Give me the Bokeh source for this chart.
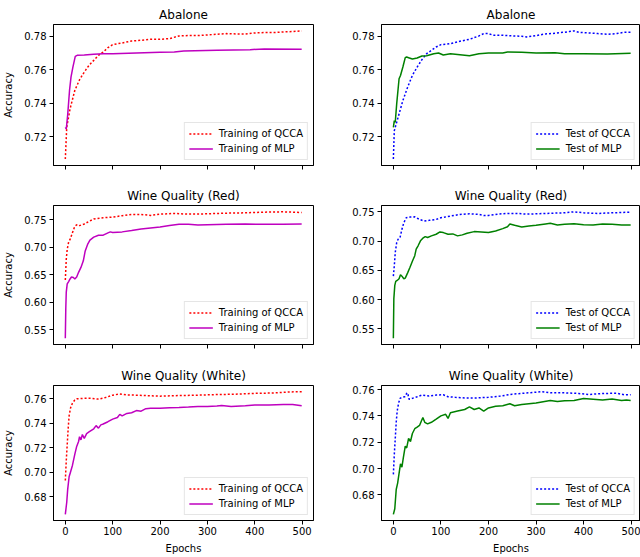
from bokeh.plotting import figure
from bokeh.layouts import gridplot
from bokeh.models import FixedTicker, PrintfTickFormatter, Range1d
from bokeh.embed import file_html
from bokeh.resources import INLINE

# ---------------- data ----------------
titles = ["Abalone", "Wine Quality (Red)", "Wine Quality (White)"]
x_ticks = [0, 100, 200, 300, 400, 500]
y_ticks_abalone = [0.72, 0.74, 0.76, 0.78]
y_ticks_red = [0.55, 0.60, 0.65, 0.70, 0.75]
y_ticks_white = [0.68, 0.70, 0.72, 0.74, 0.76]

# Abalone - training
ab_tr_qcca_ep = [0, 3, 10, 20, 30, 40, 50, 60, 70, 80, 90, 100, 120, 140, 160, 180, 200, 220, 240, 260, 280,
                 300, 320, 340, 360, 380, 400, 420, 440, 460, 480, 499]
ab_tr_qcca_acc = [0.7066, 0.7256, 0.7366, 0.7476, 0.7540, 0.7586, 0.7626, 0.7656, 0.7686, 0.7706, 0.7732,
                  0.7750, 0.7760, 0.7772, 0.7776, 0.7782, 0.7782, 0.7786, 0.7802, 0.7804, 0.7804, 0.7808,
                  0.7812, 0.7816, 0.7814, 0.7814, 0.7820, 0.7822, 0.7822, 0.7826, 0.7828, 0.7832]
ab_tr_mlp_ep = [0, 2, 5, 9, 12, 16, 21, 25, 40, 60, 80, 100, 150, 200, 230, 250, 320, 390, 420, 499]
ab_tr_mlp_acc = [0.7256, 0.7246, 0.7330, 0.7480, 0.7556, 0.7616, 0.7680, 0.7686, 0.7688, 0.7692, 0.7696,
                 0.7696, 0.7700, 0.7704, 0.7706, 0.7712, 0.7716, 0.7720, 0.7724, 0.7722]

# Abalone - test
ab_te_qcca_ep = [0, 2, 5, 10, 15, 20, 30, 40, 50, 60, 70, 80, 90, 100, 110, 120, 140, 160, 180, 190, 200, 210,
                 230, 250, 270, 280, 300, 320, 340, 350, 360, 370, 380, 390, 410, 430, 450, 470, 485, 499]
ab_te_qcca_acc = [0.7066, 0.7236, 0.7266, 0.7316, 0.7366, 0.7416, 0.7496, 0.7566, 0.7616, 0.7660, 0.7696,
                  0.7716, 0.7736, 0.7750, 0.7752, 0.7756, 0.7770, 0.7782, 0.7802, 0.7816, 0.7816, 0.7806,
                  0.7806, 0.7802, 0.7800, 0.7796, 0.7804, 0.7814, 0.7818, 0.7822, 0.7824, 0.7828, 0.7832,
                  0.7824, 0.7820, 0.7816, 0.7812, 0.7816, 0.7824, 0.7824]
ab_te_mlp_ep = [0, 2, 4, 7, 12, 15, 20, 25, 28, 32, 40, 50, 60, 70, 85, 95, 105, 120, 140, 160, 180, 200, 230,
                240, 270, 300, 340, 360, 400, 450, 499]
ab_te_mlp_acc = [0.7256, 0.7296, 0.7286, 0.7396, 0.7546, 0.7566, 0.7616, 0.7672, 0.7676, 0.7672, 0.7664,
                 0.7670, 0.7682, 0.7684, 0.7696, 0.7700, 0.7688, 0.7696, 0.7690, 0.7684, 0.7696, 0.7700,
                 0.7700, 0.7706, 0.7704, 0.7700, 0.7702, 0.7696, 0.7696, 0.7694, 0.7698]

# Wine red - training
rd_tr_qcca_ep = [0, 2, 4, 7, 10, 15, 20, 25, 30, 40, 50, 60, 80, 100, 120, 140, 160, 180, 200, 230, 260, 300,
                 340, 380, 420, 460, 499]
rd_tr_qcca_acc = [0.6407, 0.6784, 0.6963, 0.7094, 0.7142, 0.7261, 0.7381, 0.7410, 0.7393, 0.7422, 0.7470,
                  0.7512, 0.7536, 0.7548, 0.7572, 0.7596, 0.7596, 0.7578, 0.7601, 0.7613, 0.7601, 0.7607,
                  0.7619, 0.7625, 0.7637, 0.7643, 0.7631]
rd_tr_mlp_ep = [0, 1, 2, 4, 7, 10, 13, 17, 20, 24, 28, 33, 38, 42, 47, 52, 60, 70, 80, 90, 95, 100, 120, 140,
                160, 180, 200, 220, 240, 260, 280, 300, 340, 380, 420, 460, 499]
rd_tr_mlp_acc = [0.5350, 0.5888, 0.6187, 0.6336, 0.6378, 0.6425, 0.6461, 0.6450, 0.6425, 0.6461, 0.6545,
                 0.6634, 0.6754, 0.6933, 0.7052, 0.7130, 0.7184, 0.7219, 0.7219, 0.7261, 0.7279, 0.7267,
                 0.7279, 0.7303, 0.7333, 0.7351, 0.7369, 0.7393, 0.7416, 0.7416, 0.7404, 0.7410, 0.7416,
                 0.7422, 0.7416, 0.7416, 0.7422]

# Wine red - test
rd_te_qcca_ep = [0, 2, 4, 7, 10, 14, 18, 22, 27, 35, 45, 55, 65, 75, 90, 100, 120, 140, 160, 180, 190, 200,
                 220, 240, 260, 280, 300, 320, 360, 380, 400, 430, 460, 499]
rd_te_qcca_acc = [0.6401, 0.6582, 0.6807, 0.6976, 0.7032, 0.7061, 0.7201, 0.7314, 0.7399, 0.7410, 0.7415,
                  0.7370, 0.7342, 0.7354, 0.7370, 0.7399, 0.7427, 0.7455, 0.7466, 0.7455, 0.7438, 0.7438,
                  0.7461, 0.7472, 0.7472, 0.7461, 0.7466, 0.7472, 0.7483, 0.7500, 0.7483, 0.7472, 0.7483,
                  0.7494]
rd_te_mlp_ep = [0, 1, 3, 5, 8, 12, 15, 18, 22, 25, 30, 35, 40, 45, 48, 52, 57, 62, 67, 72, 80, 90, 98, 105,
                115, 125, 135, 145, 155, 170, 185, 200, 215, 230, 240, 245, 255, 270, 285, 300, 320, 330, 345,
                360, 380, 400, 420, 440, 460, 480, 499]
rd_te_mlp_acc = [0.5342, 0.6018, 0.6244, 0.6311, 0.6328, 0.6356, 0.6424, 0.6401, 0.6356, 0.6368, 0.6458,
                 0.6553, 0.6655, 0.6751, 0.6863, 0.6920, 0.7004, 0.7049, 0.7077, 0.7061, 0.7089, 0.7117,
                 0.7156, 0.7145, 0.7117, 0.7123, 0.7089, 0.7106, 0.7134, 0.7162, 0.7156, 0.7145, 0.7173,
                 0.7213, 0.7246, 0.7292, 0.7269, 0.7241, 0.7258, 0.7269, 0.7292, 0.7303, 0.7275, 0.7286,
                 0.7297, 0.7280, 0.7275, 0.7292, 0.7286, 0.7275, 0.7275]

# Wine white - training
wh_tr_qcca_ep = [0, 2, 4, 6, 8, 11, 15, 20, 25, 40, 55, 70, 85, 100, 115, 130, 150, 180, 200, 240, 280, 320,
                 360, 400, 440, 470, 499]
wh_tr_qcca_acc = [0.6931, 0.7093, 0.7224, 0.7354, 0.7459, 0.7524, 0.7563, 0.7590, 0.7600, 0.7603, 0.7603,
                  0.7597, 0.7610, 0.7629, 0.7639, 0.7631, 0.7629, 0.7624, 0.7621, 0.7626, 0.7629, 0.7634,
                  0.7637, 0.7644, 0.7647, 0.7655, 0.7658]
wh_tr_mlp_ep = [0, 3, 5, 8, 11, 15, 20, 24, 28, 30, 33, 36, 40, 45, 50, 55, 60, 65, 70, 75, 80, 90, 100, 110,
                115, 120, 130, 140, 150, 160, 170, 180, 200, 220, 240, 260, 280, 300, 320, 330, 350, 380, 400,
                430, 460, 480, 499]
wh_tr_mlp_acc = [0.6654, 0.6753, 0.6858, 0.6962, 0.7001, 0.7054, 0.7145, 0.7210, 0.7250, 0.7289, 0.7263,
                 0.7307, 0.7276, 0.7315, 0.7328, 0.7341, 0.7354, 0.7380, 0.7359, 0.7386, 0.7393, 0.7412,
                 0.7433, 0.7446, 0.7472, 0.7459, 0.7480, 0.7485, 0.7503, 0.7498, 0.7519, 0.7522, 0.7522,
                 0.7527, 0.7529, 0.7532, 0.7537, 0.7537, 0.7540, 0.7545, 0.7537, 0.7542, 0.7548, 0.7548,
                 0.7553, 0.7553, 0.7542]

# Wine white - test
wh_te_qcca_ep = [0, 2, 4, 6, 8, 11, 14, 18, 24, 28, 30, 33, 40, 50, 60, 75, 90, 105, 115, 130, 150, 175, 200,
                 225, 250, 275, 300, 310, 330, 360, 390, 410, 440, 470, 485, 499]
wh_te_qcca_acc = [0.6956, 0.7109, 0.7230, 0.7352, 0.7437, 0.7498, 0.7534, 0.7542, 0.7546, 0.7571, 0.7576,
                  0.7527, 0.7534, 0.7546, 0.7559, 0.7551, 0.7559, 0.7561, 0.7546, 0.7542, 0.7537, 0.7537,
                  0.7542, 0.7551, 0.7566, 0.7573, 0.7581, 0.7585, 0.7576, 0.7576, 0.7571, 0.7563, 0.7571,
                  0.7573, 0.7561, 0.7561]
wh_te_mlp_ep = [0, 3, 6, 9, 12, 15, 18, 21, 25, 28, 32, 36, 40, 45, 50, 55, 62, 66, 72, 80, 90, 100, 110, 115,
                120, 135, 150, 160, 170, 180, 190, 200, 215, 230, 245, 255, 270, 285, 300, 315, 330, 345, 360,
                380, 400, 420, 440, 460, 480, 490, 499]
wh_te_mlp_acc = [0.6652, 0.6695, 0.6841, 0.6890, 0.6963, 0.7036, 0.7011, 0.7084, 0.7170, 0.7157, 0.7230,
                 0.7206, 0.7267, 0.7303, 0.7315, 0.7328, 0.7388, 0.7352, 0.7340, 0.7352, 0.7376, 0.7401,
                 0.7413, 0.7381, 0.7425, 0.7437, 0.7449, 0.7469, 0.7449, 0.7461, 0.7437, 0.7461, 0.7474,
                 0.7478, 0.7493, 0.7478, 0.7488, 0.7493, 0.7498, 0.7508, 0.7517, 0.7510, 0.7515, 0.7517,
                 0.7532, 0.7527, 0.7522, 0.7529, 0.7517, 0.7522, 0.7517]

# ---------------- styling ----------------
FONT = "DejaVu Sans"
RED = "#ff0000"
MAGENTA = "#bf00bf"
BLUE = "#0000ff"
GREEN = "#008000"


def yrange(*series):
    lo = min(min(s) for s in series)
    hi = max(max(s) for s in series)
    pad = 0.05 * (hi - lo)
    return Range1d(lo - pad, hi + pad)


def make_fig(col, row, title, yticks, dotted, solid, dlabel, slabel, dcolor, scolor):
    heights = [184, 180, 192]
    tops = [24, 19, 19]
    bottoms = [19, 20, 33]
    if col == 0:
        w, bl, br = 320, 52, 7
        xr = Range1d(-24.95, 523.95)
    else:
        w, bl, br = 320, 61, 0
        xr = Range1d(-24.95, 519.7)
    p = figure(width=w, height=heights[row], output_backend="svg", toolbar_location=None,
               x_range=xr, y_range=yrange(dotted[1], solid[1]),
               min_border_left=bl, min_border_right=br, min_border_top=tops[row],
               min_border_bottom=bottoms[row], title=title)
    p.title.align = "center"
    p.title.text_font = FONT
    p.title.text_font_size = "12px"
    p.title.text_font_style = "normal"
    p.title.text_color = "black"
    p.title.standoff = 5
    p.grid.visible = False
    p.outline_line_color = "black"
    p.outline_line_width = 1
    p.background_fill_color = "white"
    p.border_fill_color = "white"

    p.line(dotted[0], dotted[1], line_color=dcolor, line_width=1.5, line_dash="2 2",
           legend_label=dlabel)
    p.line(solid[0], solid[1], line_color=scolor, line_width=1.5, legend_label=slabel)

    for ax in (p.xaxis[0], p.yaxis[0]):
        ax.axis_line_color = "black"
        ax.major_tick_line_color = "black"
        ax.major_tick_in = 0
        ax.major_tick_out = 4
        ax.minor_tick_line_color = None
        ax.major_label_text_font = FONT
        ax.major_label_text_font_size = "10px"
        ax.major_label_text_color = "black"
        ax.major_label_standoff = 3
        ax.axis_label_text_font = FONT
        ax.axis_label_text_font_size = "10px"
        ax.axis_label_text_font_style = "normal"
        ax.axis_label_text_color = "black"
        ax.axis_label_standoff = 7
    p.xaxis.ticker = FixedTicker(ticks=x_ticks)
    p.yaxis.ticker = FixedTicker(ticks=yticks)
    p.yaxis.formatter = PrintfTickFormatter(format="%.2f")
    if row < 2:
        p.xaxis.major_label_text_color = None
    else:
        p.xaxis.axis_label = "Epochs"
        p.xaxis.major_label_standoff = 2
        p.xaxis.axis_label_standoff = 5
    if col == 0:
        p.yaxis.axis_label = "Accuracy"

    lg = p.legend[0]
    lg.location = "bottom_right"
    lg.label_text_font = FONT
    lg.label_text_font_size = "10px"
    lg.label_text_color = "black"
    lg.glyph_width = 24
    lg.glyph_height = 13
    lg.label_height = 13
    lg.label_standoff = 6
    lg.spacing = 2
    lg.padding = 4
    lg.margin = 5
    lg.border_line_color = "#cccccc"
    lg.border_line_width = 1
    lg.background_fill_alpha = 0.8
    return p


p1 = make_fig(0, 0, titles[0], y_ticks_abalone, (ab_tr_qcca_ep, ab_tr_qcca_acc), (ab_tr_mlp_ep, ab_tr_mlp_acc),
              "Training of QCCA", "Training of MLP", RED, MAGENTA)
p2 = make_fig(1, 0, titles[0], y_ticks_abalone, (ab_te_qcca_ep, ab_te_qcca_acc), (ab_te_mlp_ep, ab_te_mlp_acc),
              "Test of QCCA", "Test of MLP", BLUE, GREEN)
p3 = make_fig(0, 1, titles[1], y_ticks_red, (rd_tr_qcca_ep, rd_tr_qcca_acc), (rd_tr_mlp_ep, rd_tr_mlp_acc),
              "Training of QCCA", "Training of MLP", RED, MAGENTA)
p4 = make_fig(1, 1, titles[1], y_ticks_red, (rd_te_qcca_ep, rd_te_qcca_acc), (rd_te_mlp_ep, rd_te_mlp_acc),
              "Test of QCCA", "Test of MLP", BLUE, GREEN)
p5 = make_fig(0, 2, titles[2], y_ticks_white, (wh_tr_qcca_ep, wh_tr_qcca_acc), (wh_tr_mlp_ep, wh_tr_mlp_acc),
              "Training of QCCA", "Training of MLP", RED, MAGENTA)
p6 = make_fig(1, 2, titles[2], y_ticks_white, (wh_te_qcca_ep, wh_te_qcca_acc), (wh_te_mlp_ep, wh_te_mlp_acc),
              "Test of QCCA", "Test of MLP", BLUE, GREEN)

grid = gridplot([[p1, p2], [p3, p4], [p5, p6]], toolbar_location=None)

open("out.html", "w").write(file_html(grid, INLINE))
